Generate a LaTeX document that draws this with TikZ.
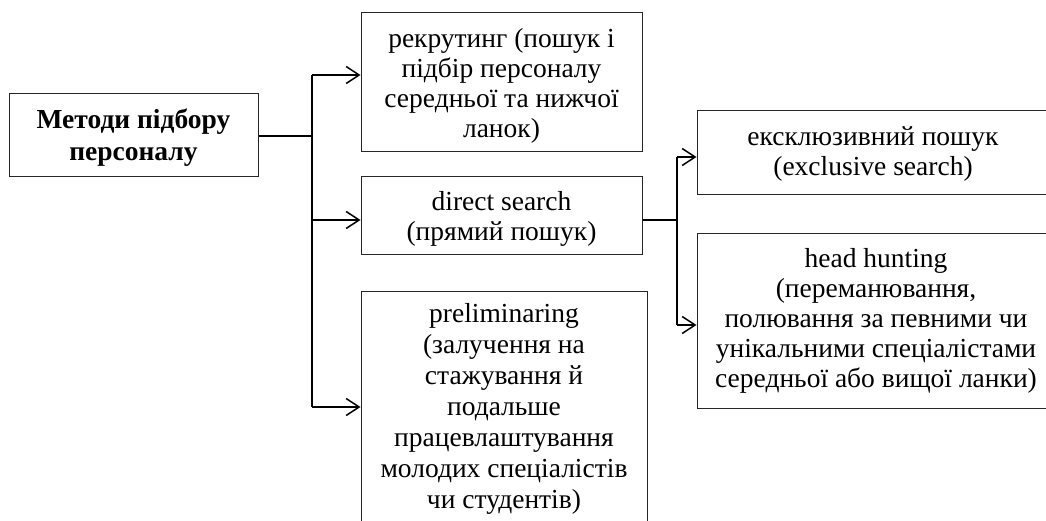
\documentclass[tikz,border=0pt]{standalone}
\usepackage{fontspec}
\setmainfont{Liberation Serif}
\usetikzlibrary{arrows.meta}
\tikzset{
  box/.style={draw=black!85, line width=1pt, inner sep=0pt, align=center, anchor=north,
    font=\fontsize{27.5}{30}\selectfont},
  conn/.style={draw=black, line width=1.5pt},
  arr/.style={conn, -{Straight Barb[length=13pt,width=17pt,line width=1.5pt]}}
}
\begin{document}
\begin{tikzpicture}[x=1pt,y=-1pt]
\useasboundingbox (0,0) rectangle (1046,521);
\clip (0,0) rectangle (1046,521);
\node[box, minimum width=249pt, font=\bfseries\fontsize{27.5}{32}\selectfont] (b1) at (133.5,93)
  {\rule{0pt}{35pt}Методи підбору\\персоналу\rule[-16pt]{0pt}{16pt}};
\node[box, minimum width=281pt] (b2) at (501.5,12)
  {\rule{0pt}{35pt}рекрутинг (пошук і\\підбір персоналу\\середньої та нижчої\\ланок)\rule[-14pt]{0pt}{14pt}};
\node[box, minimum width=281pt] (b3) at (501.5,176)
  {\rule{0pt}{34pt}direct search\\(прямий пошук)\rule[-14pt]{0pt}{14pt}};
\node[box, minimum width=286pt, font=\fontsize{27.5}{31}\selectfont] (b6) at (504,291)
  {\rule{0pt}{31pt}preliminaring\\(залучення на\\стажування й\\подальше\\працевлаштування\\молодих спеціалістів\\чи студентів)\rule[-30pt]{0pt}{30pt}};
\node[box, minimum width=383pt] (b4) at (888.5,110)
  {\rule{0pt}{35pt}\hspace*{-31pt}ексклюзивний пошук\\\hspace*{-31pt}(exclusive search)\rule[-19pt]{0pt}{19pt}};
\node[box, minimum width=383pt] (b5) at (888.5,233)
  {\rule{0pt}{34pt}\hspace*{-25pt}head hunting\\\hspace*{-25pt}(переманювання,\\\hspace*{-25pt}полювання за певними чи\\\hspace*{-25pt}унікальними спеціалістами\\\hspace*{-25pt}середньої або вищої ланки)\rule[-21pt]{0pt}{21pt}};
\coordinate (j1) at (312,136);
\coordinate (t2) at (312,75);
\coordinate (t3) at (312,220);
\coordinate (t6) at (312,407);
\coordinate (s3) at (642,220);
\coordinate (j2) at (677,220);
\coordinate (t4) at (677,157);
\coordinate (t5) at (677,325);
\draw[conn] (b1.east |- j1) -- (j1);
\draw[conn] (t2) -- (t6);
\draw[arr] (t2) -- (t2 -| b2.west);
\draw[arr] (t3) -- (t3 -| b3.west);
\draw[arr] (t6) -- (t6 -| b6.west);
\draw[conn] (b3.east |- s3) -- (j2);
\draw[conn] (t4) -- (t5);
\draw[arr] (t4) -- (t4 -| b4.west);
\draw[arr] (t5) -- (t5 -| b5.west);
\end{tikzpicture}
\end{document}
